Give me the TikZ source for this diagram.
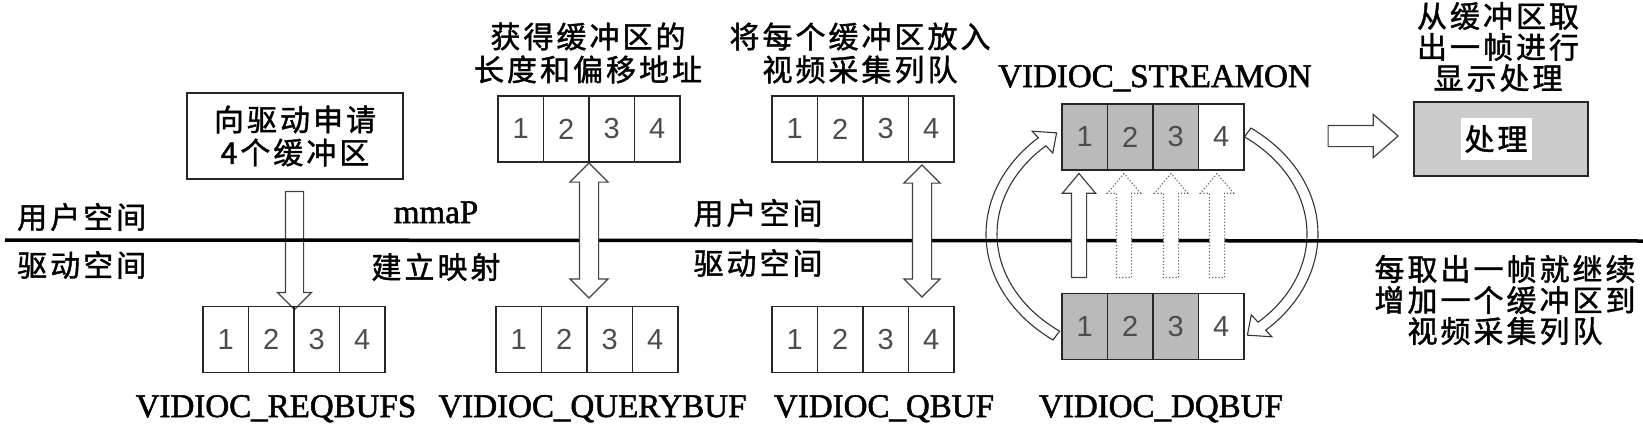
\documentclass[tikz,border=0pt]{standalone}
\usepackage{fontspec}
\setmainfont[RawFeature={embolden=1.6}]{Liberation Serif}
\newfontfamily\cjk[LetterSpace=10,RawFeature={embolden=1.4}]{Noto Sans CJK SC}
\newfontfamily\digits{Liberation Sans}
\usetikzlibrary{positioning, shapes.arrows, calc}

\begin{document}
\begin{tikzpicture}[x=1pt,y=-1pt]
            \tikzset{cell/.style={draw=black!85,line width=1.5pt,minimum width=45.5pt,minimum height=66pt,inner sep=0pt,outer sep=0pt,font=\digits\fontsize{29}{29}\selectfont,text=black!70}}
            \tikzset{taken/.style={cell,fill=black!27}}
            \tikzset{zh/.style={font=\cjk\fontsize{30}{33}\selectfont,align=center,inner sep=0pt}}
            \tikzset{zhtight/.style={font=\cjk\fontsize{30}{31}\selectfont,align=center,inner sep=0pt}}
            \tikzset{cmd/.style={font=\fontsize{33}{33}\selectfont,anchor=base,inner sep=0pt}}
            \tikzset{fat/.style={single arrow,draw=black!75,fill=white,line width=1.2pt,inner sep=8.5pt,single arrow head extend=8pt,single arrow tip angle=90}}
            \tikzset{twoway/.style={double arrow,draw=black!75,fill=white,line width=1.2pt,inner sep=9pt,double arrow head extend=9.5pt,double arrow tip angle=90,shape border rotate=90}}
            \tikzset{upward/.style={fat,shape border rotate=90,inner sep=7pt,single arrow head extend=9pt,single arrow tip angle=80,minimum height=104pt}}
            \tikzset{loopband/.style={draw=black!80,fill=white,line width=1.1pt}}

            \useasboundingbox (0,0) rectangle (1643,423);

            \coordinate (sepL) at (5,240);
            \coordinate (sepR) at (1643,241);
            \coordinate (ring) at (1152,234);

            % arrows that the line runs over
            \node[fat,shape border rotate=270,minimum height=118pt] (reqdown) at (294.5,246) {};

            \draw[loopband] (ring) ++(126.6:166 and 132) arc[start angle=126.6,end angle=226.8,x radius=166,y radius=132]
                -- ($(ring)+(226.8:175 and 141)$) -- ($(ring)+(233.4:160 and 126)$) -- ($(ring)+(226.8:145 and 111)$)
                -- ($(ring)+(226.8:155 and 121)$) arc[start angle=226.8,end angle=126.6,x radius=155,y radius=121] -- cycle;
            \draw[loopband] (ring) ++(-53.4:166 and 132) arc[start angle=-53.4,end angle=46.8,x radius=166,y radius=132]
                -- ($(ring)+(46.8:175 and 141)$) -- ($(ring)+(53.4:160 and 126)$) -- ($(ring)+(46.8:145 and 111)$)
                -- ($(ring)+(46.8:155 and 121)$) arc[start angle=46.8,end angle=-53.4,x radius=155,y radius=121] -- cycle;

            \draw[line width=3.5pt] (sepL) -- (sepR);

            % VIDIOC_REQBUFS
            \node[draw=black!85,line width=1.5pt,minimum width=216pt,minimum height=86pt,zh] (ask) at (295,136) {向驱动申请\\4个缓冲区};
            \node[cell] (rq1) at (225.75,339.5) {1};
            \node[cell,right=0pt of rq1] (rq2) {2};
            \node[cell,right=0pt of rq2] (rq3) {3};
            \node[cell,right=0pt of rq3] (rq4) {4};

            % VIDIOC_QUERYBUF
            \node[cell] (qt1) at (520.75,129) {1};
            \node[cell,right=0pt of qt1] (qt2) {2};
            \node[cell,right=0pt of qt2] (qt3) {3};
            \node[cell,right=0pt of qt3] (qt4) {4};
            \node[cell] (qb1) at (518.75,339.5) {1};
            \node[cell,right=0pt of qb1] (qb2) {2};
            \node[cell,right=0pt of qb2] (qb3) {3};
            \node[cell,right=0pt of qb3] (qb4) {4};
            \node[twoway,minimum height=135pt] (qmap) at (589,230.5) {};

            % VIDIOC_QBUF
            \node[cell] (bt1) at (794.75,129) {1};
            \node[cell,right=0pt of bt1] (bt2) {2};
            \node[cell,right=0pt of bt2] (bt3) {3};
            \node[cell,right=0pt of bt3] (bt4) {4};
            \node[cell] (bb1) at (794.75,339.5) {1};
            \node[cell,right=0pt of bb1] (bb2) {2};
            \node[cell,right=0pt of bb2] (bb3) {3};
            \node[cell,right=0pt of bb3] (bb4) {4};
            \node[twoway,minimum height=132pt,double arrow head extend=8.5pt] (qput) at (922,231) {};

            % VIDIOC_STREAMON / VIDIOC_DQBUF
            \node[taken] (st1) at (1084.75,137) {1};
            \node[taken,right=0pt of st1] (st2) {2};
            \node[taken,right=0pt of st2] (st3) {3};
            \node[cell,right=0pt of st3] (st4) {4};
            \node[taken] (dq1) at (1084.75,326.5) {1};
            \node[taken,right=0pt of dq1] (dq2) {2};
            \node[taken,right=0pt of dq2] (dq3) {3};
            \node[cell,right=0pt of dq3] (dq4) {4};

            \node[upward] (up1) at (1079,230) {};
            \node[upward,dotted,draw=black!60] (up2) at (1124,230) {};
            \node[upward,dotted,draw=black!60] (up3) at (1171,230) {};
            \node[upward,dotted,draw=black!60] (up4) at (1217,230) {};

            \node[fat,inner sep=10pt,single arrow head extend=11pt,single arrow tip angle=82,minimum height=70pt] (toshow) at (1357,136) {};
            \node[draw=black!85,line width=1.8pt,fill=black!20,minimum width=174pt,minimum height=74pt] (show) at (1501,139) {};
            \node[zh,fill=white,minimum width=71pt,minimum height=42pt] (work) at (1496,139) {处理};

            % texts
            \node[zh,anchor=west] (user1) at (17,217) {用户空间};
            \node[zh,anchor=west] (drv1) at (17,265) {驱动空间};
            \node[cmd] (mmap) at (436,223) {mmaP};
            \node[zh] (bind) at (436,267) {建立映射};
            \node[zh] (user2) at (758,213) {用户空间};
            \node[zh] (drv2) at (758,263) {驱动空间};
            \node[zh] (qinfo) at (588,53) {获得缓冲区的\\长度和偏移地址};
            \node[zh] (qin) at (860,53) {将每个缓冲区放入\\视频采集列队};
            \node[zhtight] (take) at (1498,47) {从缓冲区取\\出一帧进行\\显示处理};
            \node[zhtight] (again) at (1505,300) {每取出一帧就继续\\增加一个缓冲区到\\视频采集列队};

            \node[cmd] (creq) at (276,417) {VIDIOC\_REQBUFS};
            \node[cmd] (cquery) at (592.5,417) {VIDIOC\_QUERYBUF};
            \node[cmd] (cq) at (884,417) {VIDIOC\_QBUF};
            \node[cmd] (con) at (1155,87) {VIDIOC\_STREAMON};
            \node[cmd] (cdq) at (1161,417) {VIDIOC\_DQBUF};

\end{tikzpicture}
\end{document}
